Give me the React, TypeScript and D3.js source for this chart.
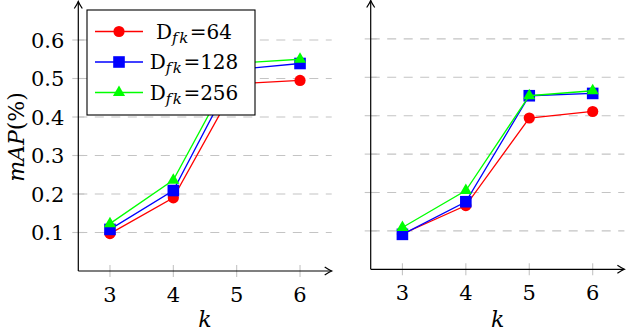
import React, { useEffect, useRef } from 'react';
import * as d3 from 'd3';

// k values on the x axis
const kValues = [3, 4, 5, 6];
const yTicks = [0.1, 0.2, 0.3, 0.4, 0.5, 0.6];
const yTickLabels = ['0.1', '0.2', '0.3', '0.4', '0.5', '0.6'];

// D_fk sizes
const seriesNames = ['64', '128', '256'];
const seriesColors = ['#ff0000', '#0000ff', '#00ff00'];
const seriesMarks = ['circle', 'square', 'triangle'];

// left panel mAP
const leftD64 = [0.097, 0.19, 0.486, 0.495];
const leftD128 = [0.108, 0.209, 0.523, 0.539];
const leftD256 = [0.123, 0.236, 0.54, 0.55];

// right panel mAP
const rightD64 = [0.092, 0.166, 0.394, 0.411];
const rightD128 = [0.091, 0.176, 0.452, 0.458];
const rightD256 = [0.109, 0.205, 0.452, 0.465];

const font = "'DejaVu Serif', serif";
const gridColor = '#c4c4c4';

const panels = [
  { series: [leftD64, leftD128, leftD256], x: [78.3, 331.7], y: [271, 1.5], yLabels: true },
  { series: [rightD64, rightD128, rightD256], x: [370.7, 624.4], y: [269.3, 0.5], yLabels: false },
];

function drawMark(g, type, cx, cy, color) {
  if (type === 'circle') {
    g.append('circle').attr('cx', cx).attr('cy', cy).attr('r', 5.6).attr('fill', color);
  } else if (type === 'square') {
    g.append('rect')
      .attr('x', cx - 5.8)
      .attr('y', cy - 5.8)
      .attr('width', 11.6)
      .attr('height', 11.6)
      .attr('fill', color);
  } else {
    const r = 7;
    const pts = [0, 120, 240].map(a => {
      const t = ((a - 90) * Math.PI) / 180;
      return [cx + r * Math.cos(t), cy + r * Math.sin(t)];
    });
    g.append('path')
      .attr('d', 'M' + pts.map(p => p.join(',')).join('L') + 'Z')
      .attr('fill', color);
  }
}

function arrowHead(g, x, y, dir) {
  // dir: 'right' or 'up'
  const d =
    dir === 'right'
      ? `M${x - 7},${y - 4} Q${x - 2.5},${y - 1} ${x},${y} Q${x - 2.5},${y + 1} ${x - 7},${y + 4}`
      : `M${x - 4},${y + 7} Q${x - 1},${y + 2.5} ${x},${y} Q${x + 1},${y + 2.5} ${x + 4},${y + 7}`;
  g.append('path').attr('d', d).attr('fill', 'none').attr('stroke', '#000').attr('stroke-width', 1.2);
}

export default function App() {
  const root = useRef(null);

  useEffect(() => {
    const svg = d3.select(root.current);
    svg.selectAll('*').remove();

    panels.forEach(p => {
      const x = d3.scaleLinear().domain([2.5, 6.5]).range(p.x);
      const y = d3.scaleLinear().domain([0, 0.7]).range(p.y);
      const g = svg.append('g');

      // grid
      g.selectAll('.grid')
        .data(yTicks)
        .enter()
        .append('line')
        .attr('x1', x(2.5))
        .attr('x2', x(6.5))
        .attr('y1', d => y(d))
        .attr('y2', d => y(d))
        .attr('stroke', gridColor)
        .attr('stroke-width', 1.1)
        .attr('stroke-dasharray', '9,7.5');

      // tick marks
      g.selectAll('.ytick')
        .data(yTicks)
        .enter()
        .append('line')
        .attr('x1', x(2.5) - 6)
        .attr('x2', x(2.5) + 6)
        .attr('y1', d => y(d))
        .attr('y2', d => y(d))
        .attr('stroke', gridColor)
        .attr('stroke-width', 1.1);
      g.selectAll('.xtick')
        .data(kValues)
        .enter()
        .append('line')
        .attr('x1', d => x(d))
        .attr('x2', d => x(d))
        .attr('y1', y(0) - 6)
        .attr('y2', y(0) + 6)
        .attr('stroke', gridColor)
        .attr('stroke-width', 1.1);

      // axes
      g.append('line')
        .attr('x1', x(2.5))
        .attr('x2', x(6.5))
        .attr('y1', y(0))
        .attr('y2', y(0))
        .attr('stroke', '#000')
        .attr('stroke-width', 1.2);
      g.append('line')
        .attr('x1', x(2.5))
        .attr('x2', x(2.5))
        .attr('y1', y(0))
        .attr('y2', y(0.7))
        .attr('stroke', '#000')
        .attr('stroke-width', 1.2);
      arrowHead(g, x(6.5), y(0), 'right');
      arrowHead(g, x(2.5), y(0.7), 'up');

      // tick labels
      g.selectAll('.xlab')
        .data(kValues)
        .enter()
        .append('text')
        .attr('x', d => x(d))
        .attr('y', y(0) + 31)
        .attr('text-anchor', 'middle')
        .style('font-family', font)
        .style('font-size', '21px')
        .text(d => d);
      g.append('text')
        .attr('x', (x(3) + x(6)) / 2)
        .attr('y', 327)
        .attr('text-anchor', 'middle')
        .style('font-family', font)
        .style('font-size', '22px')
        .style('font-style', 'italic')
        .text('k');

      if (p.yLabels) {
        g.selectAll('.ylab')
          .data(yTicks)
          .enter()
          .append('text')
          .attr('x', x(2.5) - 14)
          .attr('y', d => y(d))
          .attr('dy', '0.36em')
          .attr('text-anchor', 'end')
          .style('font-family', font)
          .style('font-size', '21px')
          .text((d, i) => yTickLabels[i]);
        const t = g
          .append('text')
          .attr('transform', 'translate(24,137) rotate(-90)')
          .attr('text-anchor', 'middle')
          .style('font-family', font)
          .style('font-size', '22px');
        t.append('tspan').style('font-style', 'italic').text('mAP');
        t.append('tspan').text('(%)');
      }

      // series
      const line = d3
        .line()
        .x((d, i) => x(kValues[i]))
        .y(d => y(d));
      p.series.forEach((vals, si) => {
        g.append('path')
          .attr('d', line(vals))
          .attr('fill', 'none')
          .attr('stroke', seriesColors[si])
          .attr('stroke-width', 1.3);
        vals.forEach((v, i) => drawMark(g, seriesMarks[si], x(kValues[i]), y(v), seriesColors[si]));
      });
    });

    // legend
    const lg = svg.append('g');
    lg.append('rect')
      .attr('x', 87)
      .attr('y', 10)
      .attr('width', 168)
      .attr('height', 105)
      .attr('fill', '#fff')
      .attr('stroke', '#000')
      .attr('stroke-width', 1.1);
    seriesNames.forEach((name, i) => {
      const cy = 31.5 + i * 30.5;
      lg.append('line')
        .attr('x1', 95)
        .attr('x2', 143)
        .attr('y1', cy)
        .attr('y2', cy)
        .attr('stroke', seriesColors[i])
        .attr('stroke-width', 1.3);
      drawMark(lg, seriesMarks[i], 119, cy, seriesColors[i]);
      const t = lg
        .append('text')
        .attr('x', 194)
        .attr('y', cy + 7)
        .attr('text-anchor', 'middle')
        .style('font-family', font)
        .style('font-size', '20px');
      t.append('tspan').text('D');
      t.append('tspan')
        .attr('dy', 4)
        .style('font-size', '15px')
        .style('font-style', 'italic')
        .style('letter-spacing', '1.5px')
        .text('fk');
      t.append('tspan').attr('dy', -4).text('=' + name);
    });
  }, []);

  return (
    <svg
      ref={root}
      width={626}
      height={332}
      style={{ position: 'absolute', left: 0, top: 0, background: '#fff' }}
    />
  );
}
